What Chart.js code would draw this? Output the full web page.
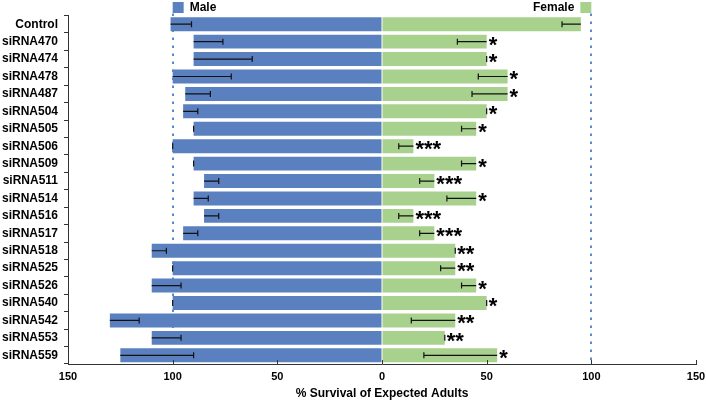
<!DOCTYPE html>
<html>
<head>
<meta charset="utf-8">
<script src="https://cdn.jsdelivr.net/npm/chart.js@4"></script>
<style>
  html, body { margin: 0; padding: 0; background: #fff; }
  #wrap { width: 706px; height: 401px; }
</style>
</head>
<body>
<div id="wrap"><canvas id="myChart" width="706" height="401"></canvas></div>
<script>
const categories = ['Control', 'siRNA470', 'siRNA474', 'siRNA478', 'siRNA487', 'siRNA504', 'siRNA505',
    'siRNA506', 'siRNA509', 'siRNA511', 'siRNA514', 'siRNA516', 'siRNA517', 'siRNA518', 'siRNA525',
    'siRNA526', 'siRNA540', 'siRNA542', 'siRNA553', 'siRNA559'];
const maleValues = [101, 90, 90, 100, 94, 95, 90, 100, 90, 85, 90, 85, 95, 110, 100, 110, 100, 130, 110, 125];
const maleErrors = [10, 14, 28, 28, 12, 7, 0, 0, 0, 7, 7, 7, 7, 7, 0, 14, 0, 14, 14, 35];
const femaleValues = [95, 50, 50, 60, 60, 50, 45, 15, 45, 25, 45, 15, 25, 35, 35, 45, 50, 35, 30, 55];
const femaleErrors = [9, 14, 0, 14, 17, 0, 7, 7, 7, 7, 14, 7, 7, 0, 7, 7, 0, 21, 0, 35];
const stars = ['', '*', '*', '*', '*', '*', '*', '***', '*', '***', '*', '***', '***', '**', '**', '*', '*', '**', '**', '*'];
const xTicks = [-150, -100, -50, 0, 50, 100, 150];

const BLUE = '#5b80bf';
const GREEN = '#a9d18e';
const FONT = "'Liberation Sans', Arial, sans-serif";

// dotted reference lines at +/-100 and small inward ticks on x axis
const guidePlugin = {
    id: 'guides',
    beforeDatasetsDraw(chart) {
        const { ctx, chartArea, scales } = chart;
        ctx.save();
        ctx.strokeStyle = '#5a8ad4';
        ctx.lineWidth = 2;
        ctx.setLineDash([2.5, 5.5]);
        [-100, 100].forEach(v => {
            const x = Math.round(scales.x.getPixelForValue(v));
            ctx.beginPath();
            ctx.moveTo(x, chartArea.top - 2);
            ctx.lineTo(x, chartArea.bottom);
            ctx.stroke();
        });
        ctx.restore();
    },
    afterDraw(chart) {
        const { ctx, chartArea, scales } = chart;
        ctx.save();
        ctx.strokeStyle = '#333';
        ctx.lineWidth = 1;
        xTicks.forEach(v => {
            const x = Math.round(scales.x.getPixelForValue(v)) + 0.5;
            ctx.beginPath();
            ctx.moveTo(x, chartArea.bottom);
            ctx.lineTo(x, chartArea.bottom - 4);
            ctx.stroke();
        });
        // legend
        const xm = scales.x.getPixelForValue(-100);
        const xf = scales.x.getPixelForValue(100);
        ctx.font = 'bold 12px ' + FONT;
        ctx.textBaseline = 'middle';
        ctx.fillStyle = BLUE;
        ctx.fillRect(xm, 2, 11, 11);
        ctx.fillStyle = '#000';
        ctx.textAlign = 'left';
        ctx.fillText('Male', xm + 17, 8);
        ctx.fillStyle = GREEN;
        ctx.fillRect(xf - 11, 2, 11, 11);
        ctx.fillStyle = '#000';
        ctx.textAlign = 'right';
        ctx.fillText('Female', xf - 17, 8);
        ctx.restore();
    }
};

// error bars (pointing toward zero) and significance stars
const errorPlugin = {
    id: 'errors',
    afterDatasetsDraw(chart) {
        const { ctx, scales } = chart;
        ctx.save();
        ctx.strokeStyle = '#111';
        ctx.lineWidth = 1.2;
        categories.forEach((c, i) => {
            const y = scales.y.getPixelForValue(i);
            const draw = (val, err) => {
                const x0 = scales.x.getPixelForValue(val);
                const x1 = scales.x.getPixelForValue(val > 0 ? val - err : val + err);
                ctx.beginPath();
                ctx.moveTo(x0, y);
                ctx.lineTo(x1, y);
                ctx.moveTo(x1, y - 3);
                ctx.lineTo(x1, y + 3);
                ctx.stroke();
            };
            draw(-maleValues[i], maleErrors[i]);
            draw(femaleValues[i], femaleErrors[i]);
            if (stars[i]) {
                ctx.font = 'bold 22px ' + FONT;
                ctx.fillStyle = '#000';
                ctx.textAlign = 'left';
                ctx.textBaseline = 'alphabetic';
                ctx.fillText(stars[i], scales.x.getPixelForValue(femaleValues[i]) + 2, y + 10);
            }
        });
        ctx.restore();
    }
};

const ctx = document.getElementById('myChart').getContext('2d');
const myChart = new Chart(ctx, {
    type: 'bar',
    data: {
        labels: categories,
        datasets: [{
            label: 'Male',
            data: maleValues.map(v => -v),
            backgroundColor: BLUE,
            barPercentage: 0.8,
            categoryPercentage: 1
        }, {
            label: 'Female',
            data: femaleValues,
            backgroundColor: GREEN,
            barPercentage: 0.8,
            categoryPercentage: 1
        }]
    },
    options: {
        indexAxis: 'y',
        responsive: false,
        animation: false,
        layout: { padding: { top: 15.5, right: 0, left: 0, bottom: 0 } },
        plugins: {
            legend: { display: false },
            tooltip: { enabled: false }
        },
        scales: {
            x: {
                stacked: true,
                min: -150,
                max: 150,
                afterBuildTicks(scale) {
                    scale.ticks = xTicks.map(v => ({ value: v }));
                },
                afterFit(scale) {
                    scale.paddingLeft = 0;
                    scale.paddingRight = 10;
                },
                ticks: {
                    callback: v => Math.abs(v),
                    color: '#000',
                    font: { family: FONT, size: 11, weight: 'bold' },
                    padding: 6.4,
                    maxRotation: 0
                },
                grid: { drawOnChartArea: false, drawTicks: false },
                border: { color: '#333', width: 1 },
                title: {
                    display: true,
                    text: '% Survival of Expected Adults',
                    color: '#000',
                    font: { family: FONT, size: 12, weight: 'bold' },
                    padding: { top: -3.4, bottom: 0 }
                }
            },
            y: {
                stacked: true,
                afterFit(scale) { scale.width = 68; },
                ticks: {
                    autoSkip: false,
                    color: '#000',
                    font: { family: FONT, size: 12, weight: 'bold' },
                    padding: 6
                },
                grid: { drawOnChartArea: false, offset: true, tickLength: 4, color: '#333' },
                border: { color: '#333', width: 1 }
            }
        }
    },
    plugins: [guidePlugin, errorPlugin]
});
</script>
</body>
</html>
